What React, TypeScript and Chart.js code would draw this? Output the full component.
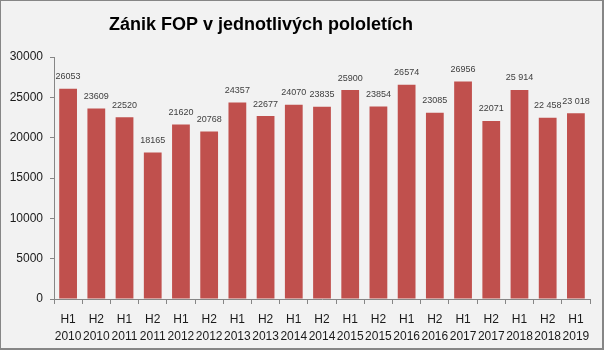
import React, { useEffect, useRef } from "react";
import { Chart, registerables } from "chart.js";

Chart.register(...registerables);

const title = "Zánik FOP v jednotlivých pololetích";
const halves = ["H1", "H2", "H1", "H2", "H1", "H2", "H1", "H2", "H1", "H2", "H1", "H2", "H1", "H2", "H1", "H2", "H1", "H2", "H1"];
const years = ["2010", "2010", "2011", "2011", "2012", "2012", "2013", "2013", "2014", "2014", "2015", "2015", "2016", "2016", "2017", "2017", "2018", "2018", "2019"];
const values = [26053, 23609, 22520, 18165, 21620, 20768, 24357, 22677, 24070, 23835, 25900, 23854, 26574, 23085, 26956, 22071, 25914, 22458, 23018];
const valueLabels = ["26053", "23609", "22520", "18165", "21620", "20768", "24357", "22677", "24070", "23835", "25900", "23854", "26574", "23085", "26956", "22071", "25 914", "22 458", "23 018"];
const yTicks = [0, 5000, 10000, 15000, 20000, 25000, 30000];

const W = 606;
const H = 351;
const FONT = "'Liberation Sans', Arial, sans-serif";

const decorPlugin = {
  id: "decor",
  beforeDraw(chart: any) {
    const ctx = chart.ctx;
    ctx.save();
    ctx.fillStyle = "#ffffff";
    ctx.fillRect(0, 0, W, H);
    ctx.fillStyle = "#F2F2F2";
    ctx.fillRect(0, 0, 604, 350);
    ctx.fillStyle = "#868686";
    ctx.fillRect(0, 0, 604, 1);
    ctx.fillRect(0, 0, 1, 350);
    ctx.fillRect(602, 0, 2, 350);
    ctx.fillRect(0, 348, 604, 2);
    ctx.restore();
  },
  afterDraw(chart: any) {
    const ctx = chart.ctx;
    ctx.save();
    ctx.fillStyle = "#000000";
    ctx.font = `bold 18px ${FONT}`;
    ctx.textAlign = "center";
    ctx.textBaseline = "middle";
    ctx.fillText(title, 261, 25);
    const meta = chart.getDatasetMeta(0);
    ctx.font = `9px ${FONT}`;
    ctx.fillStyle = "#404040";
    meta.data.forEach((bar: any, i: number) => {
      ctx.fillText(valueLabels[i], bar.x, bar.y - 12);
    });
    ctx.restore();
  },
};

export default function App() {
  const ref = useRef<HTMLCanvasElement>(null);
  useEffect(() => {
    document.body.style.margin = "0";
    const chart = new Chart(ref.current!, {
      type: "bar",
      data: {
        labels: halves.map((h, i) => [h, years[i]]),
        datasets: [
          {
            data: values,
            backgroundColor: "#C0504D",
            categoryPercentage: 1,
            barPercentage: 0.63,
          },
        ],
      },
      plugins: [decorPlugin],
      options: {
        responsive: false,
        animation: false,
        layout: { padding: { top: 57, right: 16, left: 0, bottom: 0 } },
        plugins: { legend: { display: false }, tooltip: { enabled: false }, title: { display: false } },
        scales: {
          x: {
            grid: { display: true, drawOnChartArea: false, offset: true, tickLength: 5, color: "#868686" },
            border: { display: true, color: "#868686", width: 1 },
            ticks: {
              color: "#1a1a1a",
              font: { family: FONT, size: 12, lineHeight: 1.4 },
              padding: 7,
              maxRotation: 0,
              autoSkip: false,
            },
            afterFit: (s: any) => {
              s.height = 52;
            },
          },
          y: {
            min: 0,
            max: 30000,
            afterBuildTicks: (s: any) => {
              s.ticks = yTicks.map((v) => ({ value: v }));
            },
            grid: { display: true, drawOnChartArea: false, tickLength: 4, color: "#868686" },
            border: { display: true, color: "#868686", width: 1 },
            ticks: {
              color: "#1a1a1a",
              font: { family: FONT, size: 12 },
              padding: 7,
              callback: (v: any) => String(v),
            },
            afterFit: (s: any) => {
              s.width = 54;
            },
          },
        },
      },
    });
    return () => chart.destroy();
  }, []);
  return (
    <div style={{ position: "fixed", left: 0, top: 0, width: W, height: H }}>
      <canvas ref={ref} width={W} height={H} style={{ display: "block", width: W, height: H }} />
    </div>
  );
}
